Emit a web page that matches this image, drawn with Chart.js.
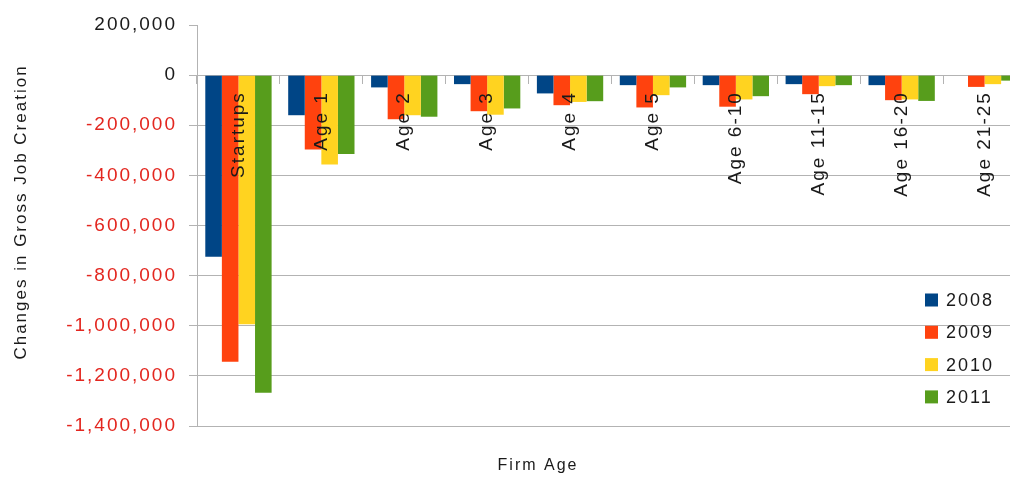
<!DOCTYPE html>
<html>
<head>
<meta charset="utf-8">
<title>Changes in Gross Job Creation by Firm Age</title>
<script src="https://cdn.jsdelivr.net/npm/chart.js@4"></script>
<style>
  body { margin: 0; background: #fff; }
  #wrap { width: 1010px; height: 477px; overflow: hidden; }
</style>
</head>
<body>
<div id="wrap"><canvas id="jobChart" width="1030" height="477"></canvas></div>
<script>
const categories = ["Startups", "Age 1", "Age 2", "Age 3", "Age 4", "Age 5", "Age 6-10", "Age 11-15", "Age 16-20", "Age 21-25"];
const seriesLabels = ["2008", "2009", "2010", "2011"];
const values2008 = [-725000, -160000, -49000, -36000, -73000, -40000, -40000, -36000, -40000, 0];
const values2009 = [-1144000, -297000, -176000, -144000, -120000, -129000, -126000, -76000, -100000, -47000];
const values2010 = [-994000, -357000, -160000, -158000, -107000, -80000, -97000, -44000, -97000, -36000];
const values2011 = [-1267000, -315000, -166000, -133000, -104000, -49000, -84000, -40000, -103000, -22000];
const yMin = -1400000, yMax = 200000, yStep = 200000;

const colors = ["#004586", "#ff420e", "#ffd320", "#579d1c"];
const gridGray = "#b3b3b3";
const FONT = '"Liberation Sans", Arial, sans-serif';

Chart.defaults.font.family = FONT;
Chart.defaults.color = "#1a1a1a";

// the old office chart spaces its letters wide
const letterSpacing = {
    id: "letterSpacing",
    beforeUpdate(chart) { chart.ctx.letterSpacing = "2px"; },
    beforeDraw(chart) { chart.ctx.letterSpacing = "2px"; }
};

// axis captions and the legend that sits inside the plot
const captions = {
    id: "captions",
    afterDraw(chart) {
        const ctx = chart.ctx;
        ctx.save();
        ctx.fillStyle = "#1a1a1a";
        ctx.font = "16px " + FONT;
        ctx.textAlign = "center";
        ctx.textBaseline = "alphabetic";
        ctx.fillText("Firm Age", 538, 470);

        ctx.save();
        ctx.translate(21, 212);
        ctx.rotate(-Math.PI / 2);
        ctx.font = "17px " + FONT;
        ctx.textBaseline = "middle";
        ctx.fillText("Changes in Gross Job Creation", 0, 0);
        ctx.restore();

        ctx.font = "18px " + FONT;
        ctx.textAlign = "left";
        ctx.textBaseline = "middle";
        chart.data.datasets.forEach((ds, i) => {
            const y = 300 + i * 32.3;
            ctx.fillStyle = ds.backgroundColor;
            ctx.fillRect(925, y - 6.5, 13, 13);
            ctx.fillStyle = "#1a1a1a";
            ctx.fillText(ds.label, 946, y + 1);
        });
        ctx.restore();
    }
};

const seriesValues = [values2008, values2009, values2010, values2011];

new Chart(document.getElementById("jobChart").getContext("2d"), {
    type: "bar",
    data: {
        labels: categories,
        datasets: seriesLabels.map((label, i) => ({
            label: label,
            data: seriesValues[i],
            backgroundColor: colors[i],
            borderWidth: 0,
            categoryPercentage: 0.8,
            barPercentage: 1.0
        }))
    },
    options: {
        responsive: false,
        animation: false,
        devicePixelRatio: 1,
        layout: { padding: { top: 25, right: 4, bottom: 51, left: 0 } },
        plugins: {
            legend: { display: false },
            tooltip: { enabled: false }
        },
        scales: {
            x: {
                position: { y: 0 },
                offset: true,
                grid: {
                    offset: true,
                    drawOnChartArea: false,
                    tickLength: 8,
                    color: gridGray
                },
                border: { display: true, color: gridGray },
                ticks: {
                    z: 1,
                    autoSkip: false,
                    minRotation: 90,
                    maxRotation: 90,
                    padding: 8,
                    color: "#1a1a1a",
                    font: { size: 19 }
                }
            },
            y: {
                min: yMin,
                max: yMax,
                afterFit(scale) { scale.width = 197; },
                grid: {
                    color: c => (c.tick && c.tick.value === yMax ? "rgba(0,0,0,0)" : gridGray),
                    tickColor: gridGray,
                    tickLength: 8
                },
                border: { display: true, color: gridGray },
                ticks: {
                    stepSize: yStep,
                    padding: 12,
                    font: { size: 19 },
                    color: c => (c.tick.value < 0 ? "#e3261f" : "#1a1a1a"),
                    callback: v => v.toLocaleString("en-US")
                }
            }
        }
    },
    plugins: [letterSpacing, captions]
});
</script>
</body>
</html>
